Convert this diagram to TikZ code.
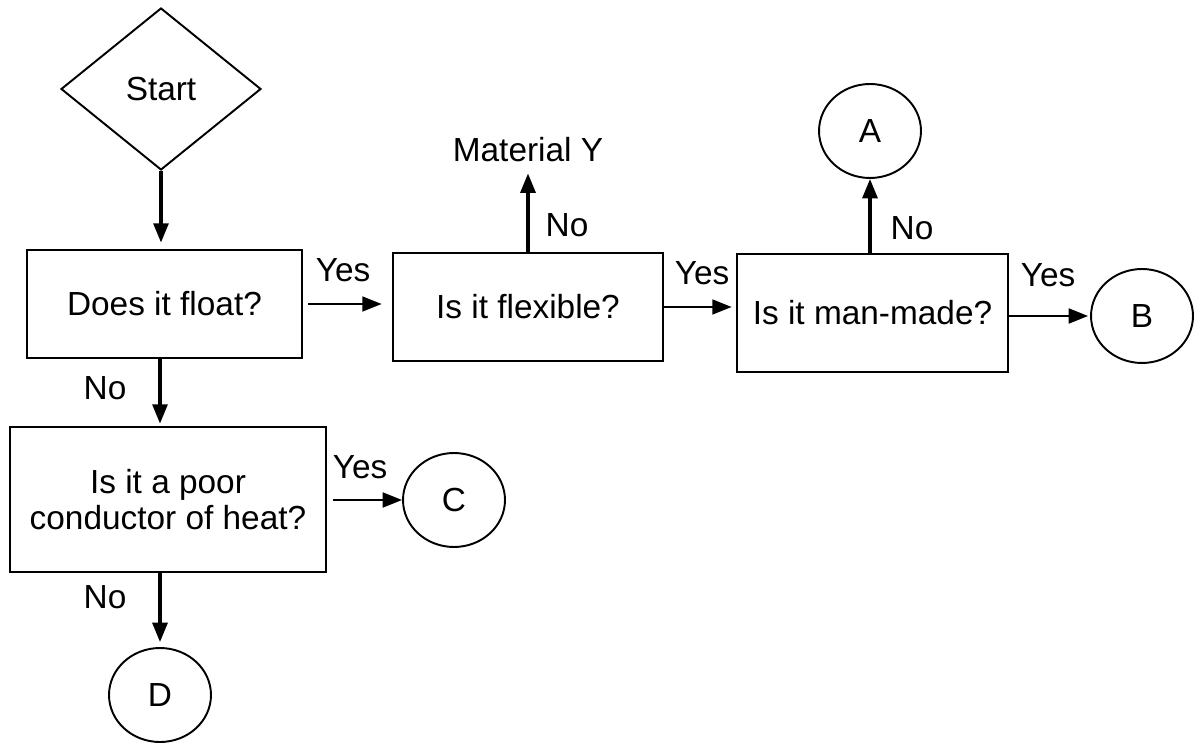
\documentclass[tikz,border=0pt]{standalone}
\usepackage{fontspec}
\setmainfont{Liberation Sans}
\usetikzlibrary{shapes.geometric,arrows.meta}

\begin{document}
\begin{tikzpicture}[
    x=0.02cm, y=-0.02cm,
    every node/.style={font=\fontsize{19}{20.5}\selectfont},
    qbox/.style={draw, line width=1.6pt, align=center, minimum width=5.5cm, minimum height=2.16cm},
    endpt/.style={draw, ellipse, line width=1.1pt, minimum width=2.04cm, minimum height=1.88cm},
    arr/.style={-{Triangle[length=11pt,width=8.5pt]}, line width=1.1pt},
    varr/.style={arr, line width=1.8pt}
]
\useasboundingbox (0,0) rectangle (1197,746);

\node[draw, diamond, line width=1.1pt, minimum width=4cm, minimum height=3.24cm] (start) at (161,89) {Start};
\node[qbox] (float) at (164.5,304) {Does it float?};
\node[qbox, minimum width=5.4cm] (flexible) at (528,307) {Is it flexible?};
\node[qbox, minimum width=5.42cm, minimum height=2.36cm] (manmade) at (872.5,313) {Is it man-made?};
\node[qbox, minimum width=6.32cm, minimum height=2.9cm] (conductor) at (168,499.5) {Is it a poor\\conductor of heat?};
\node (materialY) at (528,150) {Material Y};
\node[endpt] (A) at (870,131) {A};
\node[endpt] (B) at (1142,316) {B};
\node[endpt] (C) at (454,500) {C};
\node[endpt] (D) at (160,695) {D};

% yes / no labels
\node (yes1) at (343,270) {Yes};
\node (no1) at (567,225) {No};
\node (yes2) at (702,273) {Yes};
\node (no2) at (912,228) {No};
\node (yes3) at (1048,275) {Yes};
\node (no3) at (105,388) {No};
\node (yes4) at (360,467) {Yes};
\node (no4) at (105,597) {No};

\draw[varr, shorten >=0.12cm] (start.south) -- (start.south |- float.north);
\draw[arr, shorten <=0.1cm, shorten >=0.2cm] (float.east) -- (float.east -| flexible.west);
\draw[varr, shorten >=0.1cm] (flexible.north) -- (materialY.south);
\draw[arr, shorten >=0.08cm] (flexible.east) -- (flexible.east -| manmade.west);
\draw[varr] (manmade.north -| A) -- (A.south);
\draw[arr, shorten >=0.04cm] (B.west -| manmade.east) -- (B.west);
\draw[varr, shorten >=0.04cm] (float.south -| D) -- (conductor.north -| D);
\draw[arr, shorten <=0.12cm] (C.west -| conductor.east) -- (C.west);
\draw[varr, shorten >=0.1cm] (conductor.south -| D) -- (D.north);
\end{tikzpicture}
\end{document}
